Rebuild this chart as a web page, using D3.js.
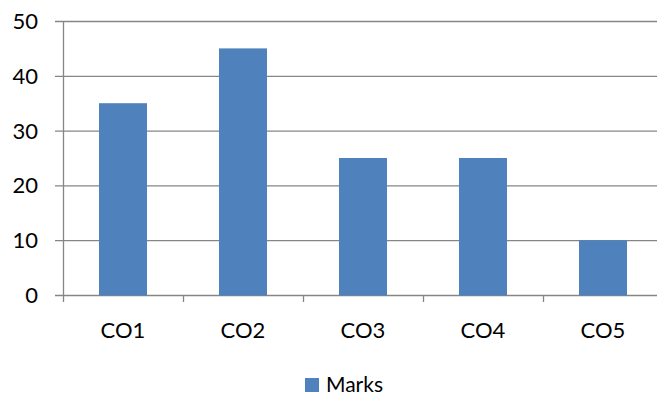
<!DOCTYPE html>
<html><head><meta charset="utf-8">
<script src="https://cdn.jsdelivr.net/npm/d3@7"></script>
<style>body{margin:0;background:#fff}svg{display:block}text{font-family:Lato,"Open Sans",sans-serif;fill:#000}</style>
</head><body><svg id="c" width="657" height="396"></svg>
<script>
const categories = ["CO1","CO2","CO3","CO4","CO5"];
const marks = [35,45,25,25,10];
const yTicks = [0,10,20,30,40,50];
const seriesName = "Marks";

(function(){
const svg = d3.select("#c");
const L = 63, R = 663, T = 21, B = 295;
const xb = d3.scaleBand().domain(categories).range([L,R]);
const y = d3.scaleLinear().domain([0,50]).range([B,T]);
const grid = "#868686";
const fs = 22;

svg.append("g").selectAll("line").data(yTicks).join("line")
  .attr("x1",55).attr("x2",R).attr("y1",d=>y(d)+0.5).attr("y2",d=>y(d)+0.5)
  .attr("stroke",grid).attr("stroke-width",1.3);
svg.append("line").attr("x1",L+0.5).attr("x2",L+0.5).attr("y1",T).attr("y2",B+7)
  .attr("stroke",grid).attr("stroke-width",1.3);
svg.append("g").selectAll("line").data(categories.slice(1)).join("line")
  .attr("x1",d=>xb(d)+0.5).attr("x2",d=>xb(d)+0.5).attr("y1",B).attr("y2",B+7)
  .attr("stroke",grid).attr("stroke-width",1.3);
svg.append("g").selectAll("text").data(yTicks).join("text")
  .attr("x",38).attr("y",d=>y(d)+8).attr("text-anchor","end").attr("font-size",fs).text(d=>d);
svg.append("g").selectAll("rect").data(marks).join("rect")
  .attr("x",(d,i)=>xb(categories[i])+xb.bandwidth()/2-24).attr("width",48)
  .attr("y",d=>y(d)).attr("height",d=>B-y(d)+0.5).attr("fill","#4F81BD");
svg.append("g").selectAll("text").data(categories).join("text")
  .attr("x",d=>xb(d)+xb.bandwidth()/2).attr("y",338).attr("text-anchor","middle").attr("font-size",fs).text(d=>d);
svg.append("rect").attr("x",305).attr("y",378).attr("width",14).attr("height",14).attr("fill","#4F81BD");
svg.append("text").attr("x",326).attr("y",392).attr("font-size",21).text(seriesName);
})();
</script></body></html>
